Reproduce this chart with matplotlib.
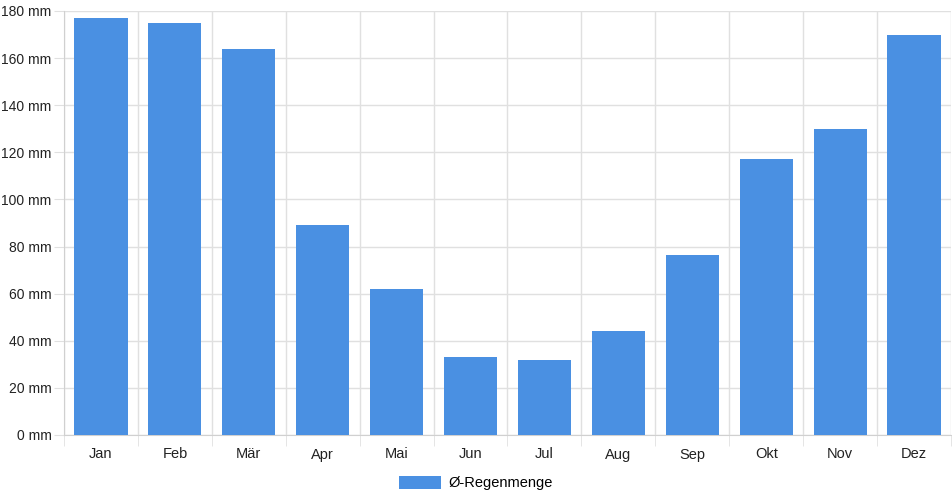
import numpy as np
import matplotlib.pyplot as plt
from matplotlib.ticker import FuncFormatter, MultipleLocator

months = ["Jan", "Feb", "Mär", "Apr", "Mai", "Jun", "Jul", "Aug", "Sep", "Okt", "Nov", "Dez"]
rain_mm = [177, 175, 164, 89, 62, 33, 32, 44, 76.5, 117, 130, 170]
series_label = "Ø-Regenmenge"

plt.rcParams['font.family'] = ['Liberation Sans', 'DejaVu Sans']

fig = plt.figure(figsize=(9.52, 5.0), dpi=100)
ax = fig.add_axes([64 / 952, 65 / 500, 887 / 952, 424 / 500])

x = np.arange(len(months))
ax.bar(x, rain_mm, width=0.72, color="#4a90e2", label=series_label, zorder=3)

ax.set_xlim(-0.5, len(months) - 0.5)
ax.set_ylim(0, 180)
ax.yaxis.set_major_locator(MultipleLocator(20))
ax.yaxis.set_major_formatter(FuncFormatter(lambda v, p: f"{int(v)} mm"))

# gridlines between categories, like chart.js
ax.set_xticks(x)
ax.set_xticklabels(months)
ax.set_xticks(np.arange(len(months) + 1) - 0.5, minor=True)
ax.grid(which="minor", axis="x", color="#e0e0e0", linewidth=1, zorder=0)
ax.grid(which="major", axis="y", color="#e0e0e0", linewidth=1, zorder=0)
ax.tick_params(axis="x", which="major", length=0, pad=9, labelsize=10.5, colors="#222222")
ax.tick_params(axis="x", which="minor", length=8, color="#e0e0e0")
ax.tick_params(axis="y", length=7, pad=2, labelsize=10, color="#e0e0e0", labelcolor="#222222")

for s in ["top", "right"]:
    ax.spines[s].set_visible(False)
ax.spines["left"].set_color("#d0d0d0")
ax.spines["bottom"].set_color("#d0d0d0")

fig.legend(loc="center", bbox_to_anchor=(476 / 952, 1 - 483 / 500), frameon=False,
           fontsize=10.5, handlelength=2.9, handleheight=1.0, handletextpad=0.5)

fig.savefig("out.png", dpi=100)
